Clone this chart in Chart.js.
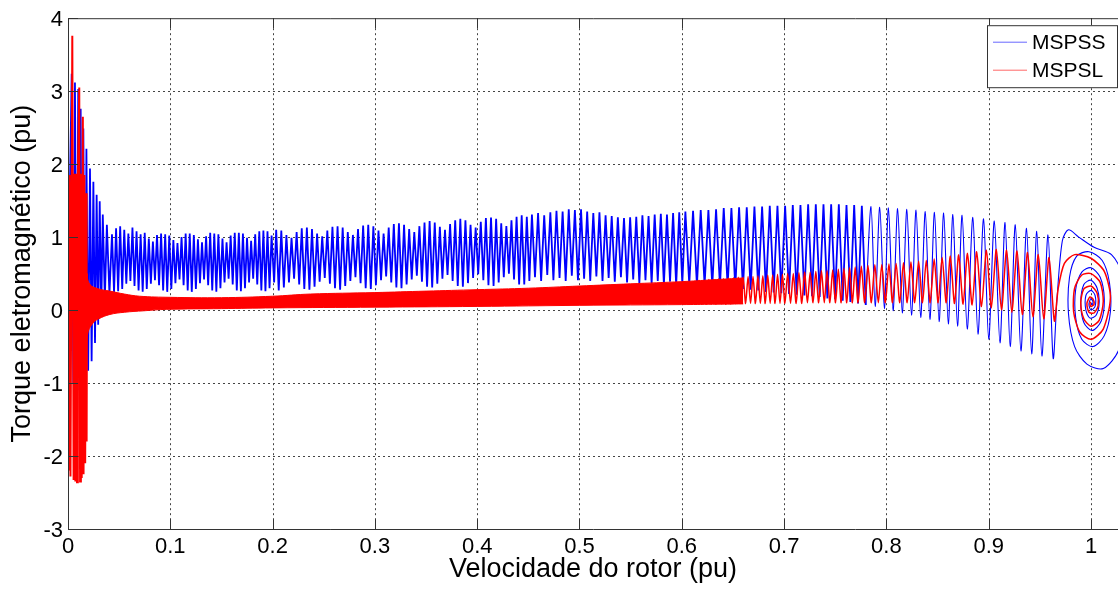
<!DOCTYPE html>
<html>
<head>
<meta charset="utf-8">
<script src="https://cdn.jsdelivr.net/npm/chart.js@4.4.0/dist/chart.umd.min.js"></script>
<style>
  html, body { margin: 0; padding: 0; background: #fff; }
</style>
</head>
<body>
<canvas id="torqueChart" width="1118" height="590"></canvas>
<script>
const speedTicks = [0, 0.1, 0.2, 0.3, 0.4, 0.5, 0.6, 0.7, 0.8, 0.9, 1];
const torqueTicks = [-3, -2, -1, 0, 1, 2, 3, 4];
const seriesNames = ['MSPSS', 'MSPSL'];

// MSPSS (blue) - peaks and troughs, [speed, torque]
const mspssStart = [[0,0],[0.0036,3.24],[0.0052,-1.0],[0.0068,3.12],[0.0084,-1.1],[0.010,3.03],[0.0112,-1.1],[0.0124,2.76],[0.0137,-1.0],[0.015,2.49],[0.0165,-0.95],[0.018,2.21],[0.0197,-0.83],[0.0215,1.94],[0.0231,-0.7],[0.0248,1.76],[0.0264,-0.45],[0.028,1.58],[0.0295,-0.2],[0.031,1.49],[0.0325,0.0],[0.034,1.31],[0.036,0.15],[0.038,1.17],[0.0405,0.22],[0.043,1.04],[0.045,0.24]];
const mspssBand1 = [[0.047,1.12],[0.049,0.26],[0.051,1.15],[0.053,0.29],[0.055,1.10],[0.057,0.36],[0.059,1.05],[0.061,0.40],[0.063,1.13],[0.065,0.33],[0.067,1.08],[0.069,0.27],
  [0.071,1.04],[0.073,0.25],[0.075,1.06],[0.077,0.29],[0.079,0.98],[0.081,0.36],[0.083,0.94],[0.085,0.41],[0.087,1.03],[0.089,0.34],[0.091,1.05],[0.093,0.27],
  [0.095,1.04],[0.097,0.25],[0.099,1.02],[0.101,0.29],[0.103,0.96],[0.105,0.37],[0.107,0.92],[0.109,0.42],[0.111,1.00],[0.113,0.34],[0.115,1.05],[0.117,0.27],
  [0.119,1.05],[0.121,0.25],[0.123,1.03],[0.125,0.29],[0.127,0.97],[0.129,0.37],[0.131,0.93],[0.133,0.42],[0.135,1.01],[0.137,0.34],[0.139,1.06],[0.141,0.27],
  [0.143,1.05],[0.145,0.25],[0.147,1.04],[0.149,0.30],[0.151,0.98],[0.153,0.38],[0.155,0.93],[0.157,0.43],[0.159,1.02],[0.161,0.35],[0.163,1.06],[0.165,0.27],
  [0.167,1.06],[0.169,0.26],[0.171,1.05],[0.173,0.30],[0.175,0.99],[0.177,0.38],[0.179,0.95],[0.181,0.43],[0.183,1.04],[0.185,0.35],[0.187,1.08],[0.189,0.27],
  [0.191,1.09],[0.193,0.26],[0.195,1.08],[0.197,0.30],[0.199,1.02],[0.2015,0.38]];
const mspssBand2 = [[0.2035,1.10],[0.206,0.27],[0.2085,1.09],[0.211,0.31],[0.2135,1.03],[0.216,0.38],[0.2185,0.99],[0.221,0.43],[0.2235,1.07],[0.226,0.35],[0.2285,1.12],[0.231,0.29],
  [0.2335,1.13],[0.236,0.28],[0.2385,1.11],[0.241,0.32],[0.2435,1.05],[0.246,0.39],[0.2485,1.01],[0.251,0.44],[0.2535,1.09],[0.256,0.36],[0.2585,1.14],[0.261,0.30],
  [0.2635,1.15],[0.266,0.28],[0.2685,1.13],[0.271,0.33],[0.2735,1.07],[0.276,0.40],[0.2785,1.03],[0.281,0.45],[0.2835,1.11],[0.286,0.37],[0.2885,1.16],[0.291,0.30],
  [0.2935,1.17],[0.296,0.29],[0.2985,1.15],[0.301,0.34],[0.3035,1.09],[0.306,0.41],[0.3085,1.05],[0.311,0.46],[0.3135,1.13],[0.316,0.38],[0.3185,1.18],[0.321,0.31],
  [0.3235,1.19],[0.326,0.30],[0.3285,1.17],[0.331,0.35],[0.3335,1.11],[0.336,0.42],[0.3385,1.07],[0.341,0.47],[0.3435,1.15],[0.346,0.39],[0.3485,1.20],[0.351,0.32],
  [0.3535,1.22],[0.356,0.31],[0.3585,1.20],[0.361,0.36],[0.3635,1.14],[0.366,0.43],[0.3685,1.10],[0.371,0.48],[0.3735,1.18],[0.376,0.40],[0.3785,1.23],[0.381,0.33],
  [0.3835,1.25],[0.386,0.32],[0.3885,1.23],[0.391,0.37],[0.3935,1.17],[0.396,0.44],[0.3985,1.13],[0.401,0.49],[0.4035,1.21],[0.406,0.41],[0.4085,1.26],[0.411,0.34],
  [0.4135,1.27],[0.416,0.33],[0.4185,1.25],[0.421,0.38],[0.4235,1.19],[0.426,0.45],[0.4285,1.15],[0.431,0.50],[0.4335,1.23],[0.436,0.42],[0.4385,1.28],[0.441,0.35],
  [0.4435,1.30],[0.446,0.35],[0.4485,1.28],[0.451,0.40]];
const mspssBand3 = [[0.4535,1.31],[0.4565,0.45],[0.4595,1.33],[0.4625,0.40],[0.4655,1.30],[0.4685,0.48],[0.4715,1.34],[0.4745,0.41],[0.4775,1.36],[0.4805,0.44],[0.4835,1.35],[0.4865,0.40],[0.4895,1.38],[0.4925,0.47],[0.4955,1.37],[0.4985,0.41],[0.5015,1.38],[0.5045,0.43],[0.5075,1.35],[0.5105,0.40],[0.5135,1.33],[0.5165,0.46],[0.5195,1.34],[0.5225,0.40],[0.5255,1.30],[0.5285,0.44],[0.5315,1.29],[0.5345,0.39],[0.5375,1.27],[0.5405,0.45],[0.5435,1.26],[0.5465,0.38],[0.5495,1.27],[0.5525,0.42],[0.5555,1.28],[0.5585,0.37],[0.5615,1.30],[0.5645,0.41],[0.5675,1.29],[0.5705,0.36],[0.5735,1.31],[0.5765,0.40],[0.5795,1.32],[0.5825,0.35],[0.5855,1.31],[0.5885,0.39],[0.5915,1.33],[0.5945,0.34],[0.5975,1.34],[0.6005,0.36]];
const mspssMid = [[0.6035,1.35],[0.6073,0.35],[0.611,1.36],[0.6148,0.34],[0.6185,1.37],[0.6223,0.34],[0.626,1.37],[0.6298,0.33],[0.6335,1.38],[0.6373,0.33],[0.641,1.40],[0.6448,0.32],[0.6485,1.40],[0.6523,0.30],[0.656,1.41],[0.6598,0.29],[0.6635,1.41],[0.6673,0.28],[0.671,1.42],[0.6748,0.27],[0.6785,1.42],[0.6823,0.25],[0.686,1.43],[0.6898,0.24],[0.6935,1.43],[0.6973,0.23],[0.701,1.43],[0.7048,0.22],[0.7085,1.44],[0.7123,0.21],[0.716,1.44],[0.7198,0.20],[0.7235,1.45],[0.7273,0.19],[0.731,1.45],[0.7348,0.18],[0.7385,1.45],[0.7423,0.16],[0.746,1.45],[0.7498,0.15],[0.7535,1.45],[0.7573,0.13],[0.761,1.44],[0.7648,0.11],[0.7685,1.44],[0.7723,0.09],[0.776,1.43],[0.7798,0.07]];
const mspssTail = [[0.785,1.42],[0.789,0.05],[0.7935,1.41],[0.798,0.02],[0.802,1.40],[0.8065,-0.01],[0.811,1.39],[0.8155,-0.04],[0.820,1.38],[0.8245,-0.07],[0.829,1.37],[0.8335,-0.10],[0.838,1.35],[0.8425,-0.13],[0.847,1.34],[0.8515,-0.16],[0.856,1.33],[0.8605,-0.19],[0.865,1.31],[0.8695,-0.22],[0.874,1.30],[0.879,-0.26],[0.8845,1.27],[0.8895,-0.33],[0.895,1.25],[0.900,-0.40],[0.9055,1.22],[0.911,-0.45],[0.916,1.20],[0.921,-0.50],[0.926,1.17],[0.9315,-0.56],[0.937,1.12],[0.942,-0.60],[0.947,1.08],[0.952,-0.63],[0.958,1.03],[0.963,-0.66]];
const mspssSpiral = [[0.967,0.2],[0.972,0.95],[0.978,1.1],[0.988,1.0],[1.003,0.86],[1.02,0.76],[1.03,0.5],[1.032,-0.1],[1.027,-0.55],[1.012,-0.8],[0.996,-0.74],[0.984,-0.5],[0.978,-0.05],[0.979,0.45],[0.986,0.74],[0.998,0.8],[1.011,0.68],[1.018,0.38],[1.019,-0.02],[1.013,-0.35],[1.002,-0.5],[0.991,-0.4],[0.985,-0.1],[0.985,0.28],[0.991,0.52],[1.0,0.58],[1.009,0.45],[1.013,0.15],[1.01,-0.15],[1.001,-0.28],[0.993,-0.17],[0.99,0.1],[0.993,0.35],[1.0,0.41],[1.006,0.3],[1.008,0.1],[1.005,-0.07],[0.999,-0.11],[0.995,0.0],[0.995,0.2],[1.0,0.27],[1.004,0.2],[1.004,0.05],[1.0,0.0],[0.998,0.08],[1.0,0.16],[1.002,0.11],[1.001,0.07],[1.0,0.1]];

// MSPSL (red)
const mspslStart = [[0,0],[0.0008,-2.2],[0.0016,1.85],[0.0024,-2.28],[0.0042,3.76],[0.0055,-2.33],[0.0064,1.87],[0.0072,-2.35],[0.008,1.87],[0.0088,-2.36],[0.0096,1.87],[0.011,3.05],[0.0118,-2.35],[0.0126,1.87],[0.0134,-2.3],[0.0145,2.65],[0.0152,-2.25],[0.016,1.85],[0.0168,-2.1],[0.0176,1.6],[0.0182,-1.8],[0.0186,0.5]];
const mspslBandTop = [[0.018,0.5],[0.0215,0.35],[0.03,0.29],[0.041,0.26],[0.055,0.22],[0.07,0.19],[0.1,0.175],[0.15,0.17],[0.2,0.19],[0.237,0.22],[0.3,0.24],[0.35,0.26],[0.4,0.28],[0.45,0.3],[0.5,0.33],[0.55,0.36],[0.6,0.39],[0.63,0.415],[0.66,0.44]];
const mspslBandBottom = [[0.018,-0.5],[0.0199,-0.29],[0.025,-0.17],[0.03,-0.12],[0.041,-0.06],[0.055,-0.03],[0.074,-0.01],[0.096,0.01],[0.15,0.02],[0.2,0.03],[0.3,0.04],[0.4,0.05],[0.5,0.065],[0.6,0.075],[0.63,0.08],[0.66,0.085]];
const mspslTail = [[0.612,0.40],[0.6144,0.08],[0.6168,0.41],[0.6192,0.08],[0.6216,0.41],[0.624,0.08],[0.6264,0.42],[0.6288,0.08],[0.6312,0.42],[0.6336,0.08],[0.636,0.43],[0.6384,0.08],[0.6408,0.43],[0.6432,0.08],[0.6456,0.44],[0.648,0.08],[0.6504,0.44],[0.6528,0.09],[0.6552,0.45],[0.6576,0.09],[0.66,0.45],[0.6624,0.09],[0.6648,0.46],[0.6672,0.09],[0.6696,0.46],[0.672,0.09],[0.6744,0.47],[0.6768,0.09],[0.6792,0.47],[0.6816,0.09],[0.684,0.48],[0.6864,0.09],[0.6888,0.48],[0.6912,0.09],[0.6936,0.49],[0.696,0.09],[0.6984,0.49],[0.7008,0.09],
  [0.7035,0.50],[0.7063,0.09],[0.709,0.50],[0.7118,0.09],[0.7145,0.51],[0.7173,0.09],[0.72,0.52],[0.7228,0.10],[0.7255,0.52],[0.7283,0.10],[0.731,0.53],[0.7338,0.10],[0.7365,0.54],[0.7393,0.10],[0.742,0.54],[0.7448,0.10],[0.7475,0.55],[0.7503,0.10],[0.753,0.56],[0.7558,0.10],[0.7585,0.57],[0.7613,0.10],[0.764,0.58],[0.7668,0.10],[0.7695,0.59],[0.7723,0.10],
  [0.7755,0.60],[0.7788,0.10],[0.782,0.61],[0.7853,0.10],[0.7887,0.62],[0.7921,0.10],[0.7955,0.62],[0.799,0.10],[0.8025,0.63],[0.806,0.10],[0.8095,0.64],[0.8131,0.10],[0.8167,0.65],[0.8203,0.10],[0.824,0.66],[0.8277,0.10],[0.8315,0.67],[0.8353,0.10],[0.839,0.68],[0.8428,0.10],[0.8467,0.70],[0.8506,0.10],[0.8545,0.72],[0.8585,0.10],[0.8625,0.74],[0.8666,0.09],[0.8707,0.76],[0.875,0.08],[0.8793,0.78],[0.8838,0.07],
  [0.8883,0.80],[0.893,0.05],[0.8978,0.82],[0.9026,0.03],[0.9075,0.83],[0.9125,0.0],[0.9175,0.82],[0.9226,-0.03],[0.9277,0.81],[0.9328,-0.06],[0.938,0.79],[0.9432,-0.09],[0.9485,0.76],[0.9538,-0.12],[0.959,0.72],[0.9642,-0.15]];
const mspslSpiral = [[0.968,0.3],[0.974,0.64],[0.984,0.76],[1.0,0.71],[1.013,0.53],[1.019,0.17],[1.012,-0.26],[1.0,-0.4],[0.989,-0.3],[0.983,-0.02],[0.984,0.3],[0.991,0.48],[1.0,0.5],[1.009,0.38],[1.012,0.12],[1.008,-0.14],[1.0,-0.22],[0.993,-0.12],[0.99,0.1],[0.993,0.29],[1.0,0.33],[1.006,0.23],[1.007,0.06],[1.003,-0.04],[0.998,-0.03],[0.996,0.09],[0.999,0.18],[1.002,0.15],[1.003,0.08],[1.0,0.05],[0.999,0.1],[1.0,0.11]];

const toXY = pts => pts.map(p => ({x: p[0], y: p[1]}));
const BLUE = '#0000ff';
const RED = '#ff0000';

Chart.defaults.font.family = '"Liberation Sans", Arial, sans-serif';
Chart.defaults.color = '#000';

// grid, box, inward ticks and legend drawn like the MATLAB figure
const matlabAxes = {
  id: 'matlabAxes',
  beforeDatasetsDraw(chart) {
    const {ctx, chartArea: a, scales: {x, y}} = chart;
    ctx.save();
    ctx.strokeStyle = '#444';
    ctx.lineWidth = 1;
    ctx.setLineDash([2, 3]);
    ctx.beginPath();
    speedTicks.forEach(v => {
      const px = Math.round(x.getPixelForValue(v)) + 0.5;
      if (px <= a.left + 1) return;
      ctx.moveTo(px, a.top);
      ctx.lineTo(px, a.bottom);
    });
    torqueTicks.forEach(v => {
      const py = Math.round(y.getPixelForValue(v)) + 0.5;
      if (py <= a.top + 1 || py >= a.bottom - 1) return;
      ctx.moveTo(a.left, py);
      ctx.lineTo(a.right, py);
    });
    ctx.stroke();
    ctx.restore();
  },
  afterDatasetsDraw(chart) {
    const {ctx, chartArea: a, scales: {x, y}} = chart;
    ctx.save();
    ctx.strokeStyle = '#333';
    ctx.lineWidth = 1;
    ctx.beginPath();
    ctx.moveTo(a.right, a.top + 0.5);
    ctx.lineTo(a.left + 0.5, a.top + 0.5);
    ctx.lineTo(a.left + 0.5, a.bottom + 0.5);
    ctx.lineTo(a.right, a.bottom + 0.5);
    speedTicks.forEach(v => {
      const px = Math.round(x.getPixelForValue(v)) + 0.5;
      ctx.moveTo(px, a.bottom);
      ctx.lineTo(px, a.bottom - 10);
      ctx.moveTo(px, a.top);
      ctx.lineTo(px, a.top + 10);
    });
    torqueTicks.forEach(v => {
      const py = Math.round(y.getPixelForValue(v)) + 0.5;
      ctx.moveTo(a.left, py);
      ctx.lineTo(a.left + 10, py);
    });
    ctx.stroke();

    // legend box
    const lx = a.right - 131, ly = a.top + 7, lw = 130, lh = 62;
    ctx.fillStyle = '#fff';
    ctx.fillRect(lx, ly, lw, lh);
    ctx.strokeStyle = '#333';
    ctx.strokeRect(lx + 0.5, ly + 0.5, lw, lh);
    ctx.font = '21px "Liberation Sans", Arial, sans-serif';
    ctx.textBaseline = 'middle';
    ctx.textAlign = 'left';
    [BLUE, RED].forEach((c, i) => {
      const yy = ly + 17 + i * 28;
      ctx.strokeStyle = c;
      ctx.globalAlpha = 0.6;
      ctx.beginPath();
      ctx.moveTo(lx + 6, yy);
      ctx.lineTo(lx + 40, yy);
      ctx.stroke();
      ctx.globalAlpha = 1;
      ctx.fillStyle = '#000';
      ctx.fillText(seriesNames[i], lx + 45, yy + 1);
    });
    ctx.restore();
  }
};

const ctx = document.getElementById('torqueChart').getContext('2d');

new Chart(ctx, {
  type: 'line',
  data: {
    datasets: [{
      label: seriesNames[0],
      data: toXY([].concat(mspssStart, mspssBand1, mspssBand2, mspssBand3, mspssMid)),
      borderColor: BLUE,
      borderWidth: 1.8,
      tension: 0,
      pointRadius: 0,
      fill: false,
      order: 1
    }, {
      label: seriesNames[1],
      data: toXY(mspslBandTop),
      borderColor: RED,
      backgroundColor: RED,
      borderWidth: 1,
      tension: 0.4,
      pointRadius: 0,
      fill: '+1',
      order: 0
    }, {
      label: 'band bottom',
      data: toXY(mspslBandBottom),
      borderColor: RED,
      borderWidth: 1,
      tension: 0.4,
      pointRadius: 0,
      fill: false,
      order: 0
    }, {
      label: 'start',
      data: toXY(mspslStart),
      borderColor: RED,
      borderWidth: 2,
      tension: 0,
      pointRadius: 0,
      fill: false,
      order: 0
    }, {
      label: 'tail',
      data: toXY([].concat(mspslTail, mspslSpiral)),
      borderColor: RED,
      borderWidth: 1.5,
      tension: 0.25,
      pointRadius: 0,
      fill: false,
      order: 0
    }, {
      label: 'mspss tail',
      data: toXY([].concat(mspssMid.slice(-1), mspssTail, mspssSpiral)),
      borderColor: BLUE,
      borderWidth: 1.1,
      tension: 0.3,
      pointRadius: 0,
      fill: false,
      order: 1
    }]
  },
  options: {
    responsive: false,
    devicePixelRatio: 1,
    animation: false,
    events: [],
    layout: { padding: { top: 16, left: 0, right: 0, bottom: 0 } },
    scales: {
      x: {
        type: 'linear',
        min: 0,
        max: 1.0264,
        afterBuildTicks: s => { s.ticks = speedTicks.map(v => ({ value: v })); },
        afterFit: s => { s.height = 61; },
        grid: { display: false, drawTicks: false },
        border: { display: false },
        ticks: {
          font: { size: 22 },
          padding: 5,
          maxRotation: 0,
          autoSkip: false,
          callback: v => String(Math.round(v * 10) / 10)
        },
        title: {
          display: true,
          text: 'Velocidade do rotor (pu)',
          font: { size: 27 },
          padding: { top: 0, bottom: 4 }
        }
      },
      y: {
        min: -3,
        max: 4,
        afterBuildTicks: s => { s.ticks = torqueTicks.map(v => ({ value: v })); },
        afterFit: s => { s.width = 68; },
        grid: { display: false, drawTicks: false },
        border: { display: false },
        ticks: {
          font: { size: 22 },
          padding: 5,
          labelOffset: 2,
          autoSkip: false,
          callback: v => String(v)
        },
        title: {
          display: true,
          text: 'Torque eletromagnético (pu)',
          font: { size: 27 },
          padding: { top: 6, bottom: 0 }
        }
      }
    },
    plugins: {
      legend: { display: false },
      tooltip: { enabled: false }
    }
  },
  plugins: [matlabAxes]
});
</script>
</body>
</html>
